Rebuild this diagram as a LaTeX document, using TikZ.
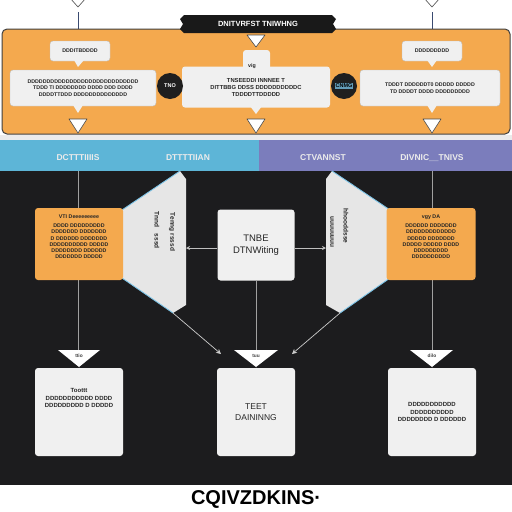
\documentclass[tikz,border=0pt]{standalone}
\usepackage{fontspec}
\setmainfont{Liberation Sans}
\usetikzlibrary{arrows.meta}
\definecolor{orangeC}{HTML}{F4A94E}
\definecolor{darkbg}{HTML}{1C1C1E}
\definecolor{bandblue}{HTML}{5DB5D7}
\definecolor{bandpurple}{HTML}{7B7DBC}
\definecolor{boxwhite}{HTML}{F0F0F0}
\definecolor{trapgrey}{HTML}{E6E6E6}
\definecolor{linegrey}{HTML}{A0A0A0}
\definecolor{edgeblue}{HTML}{7CC3E6}
\definecolor{navyline}{HTML}{3A4A70}
\tikzset{
  wbox/.style={fill=boxwhite, rounded corners=3pt, draw=black!25, line width=0.4pt},
  obox/.style={fill=orangeC, rounded corners=3pt},
  tinytxt/.style={font=\fontsize{5.3}{6.3}\selectfont\bfseries, text=black!85, align=center},
  midtxt/.style={font=\fontsize{6.5}{7.5}\selectfont\bfseries, text=black!85, align=center},
  bandtxt/.style={font=\fontsize{8.5}{9}\selectfont\bfseries, text=white!92!black},
  tri/.style={fill=white, draw=black!70, line width=0.6pt, line join=round},
  gline/.style={draw=linegrey, line width=0.7pt},
  trilabel/.style={font=\fontsize{4.8}{5}\selectfont\bfseries, text=black!75},
}
\begin{document}
\begin{tikzpicture}[x=1pt,y=-1pt]
\useasboundingbox (0,0) rectangle (512,512);
\fill[white] (0,0) rectangle (512,512);
% top connectors
\draw[navyline, line width=0.8pt] (78,12) -- (78,30);
\draw[navyline, line width=0.8pt] (432,12) -- (432,30);
\draw[tri] (70,-2) -- (86,-2) -- (78,7) -- cycle;
\draw[tri] (424,-2) -- (440,-2) -- (432,7) -- cycle;
% orange band
\draw[fill=orangeC, draw=black!75, line width=1pt, rounded corners=5pt] (2,29) rectangle (510,134);
% title tag
\fill[black!90] (184,15) -- (332,15) -- (336,19) -- (333,24) -- (336,29) -- (332,33) -- (184,33) -- (180,29) -- (183,24) -- (180,19) -- cycle;
\node[font=\fontsize{7.5}{8}\selectfont\bfseries, text=white] (title) at (258,24) {DNITVRFST TNIWHNG};
\draw[tri] (247,35) -- (265,35) -- (256,47) -- cycle;
% left label + box
\node[wbox, minimum width=60pt, minimum height=20pt, tinytxt] (ll) at (80,51) {DDDITBDDDD};
\fill[boxwhite] (74,60) -- (84,60) -- (78,67) -- cycle;
\node[wbox, minimum width=146pt, minimum height=36pt, tinytxt] (lb) at (83,88) {DDDDDDDDDDDDDDDDDDDDDDDDDDDDD\\ TDDD TI DDDDDDDD DDDD DDD DDDD\\ DDDDTTDDD DDDDDDDDDDDDDD};
\fill[boxwhite] (73,105) -- (83,105) -- (78,113) -- cycle;
% centre box with tab
\fill[boxwhite, rounded corners=3pt] (243,50) rectangle (270,70);
\node[wbox, draw=none, minimum width=148pt, minimum height=41pt, tinytxt, font=\fontsize{5.8}{7}\selectfont\bfseries] (cb) at (256,87) {TNSEEDDI INNNEE T\\ DITTBBG DDSS DDDDDDDDDDC\\ TDDDDTTDDDDD};
\node[tinytxt] (vig) at (252,66) {vig};
\fill[boxwhite] (250,106) -- (262,106) -- (256,114) -- cycle;
% right label + box
\node[wbox, minimum width=60pt, minimum height=20pt, tinytxt] (rl) at (432,51) {DDDDDDDDD};
\fill[boxwhite] (427,60) -- (437,60) -- (432,67) -- cycle;
\node[wbox, minimum width=140pt, minimum height=36pt, tinytxt] (rb) at (430,88) {TDDDT DDDDDDT0 DDDDD DDDDD\\ TD DDDDT DDDD DDDDDDDDD};
\fill[boxwhite] (427,105) -- (437,105) -- (432,113) -- cycle;
% circles
\node[circle, fill=black!88, minimum size=26pt, inner sep=0pt, font=\fontsize{5.5}{6}\selectfont\bfseries, text=white] (c1) at (170,86) {TNO};
\node[circle, fill=black!88, minimum size=26pt, inner sep=0pt] (c2) at (344,86) {};
\node[fill=edgeblue!80!black, inner sep=1pt, font=\fontsize{5.5}{6}\selectfont\bfseries, text=black] (c2t) at (344,86) {CNMG};
% bottom triangles in orange band
\draw[tri] (69,119) -- (87,119) -- (78,133) -- cycle;
\draw[tri] (247,119) -- (265,119) -- (256,133) -- cycle;
\draw[tri] (423,119) -- (441,119) -- (432,133) -- cycle;
% band
\fill[black!8] (0,135) rectangle (512,140);
\fill[bandblue] (0,140) rectangle (259,171);
\fill[bandpurple] (259,140) rectangle (512,171);
\node[bandtxt] (h1) at (78,158) {DCTTTIIIIS};
\node[bandtxt] (h2) at (188,158) {DTTTTIIAN};
\node[bandtxt] (h3) at (323,158) {CTVANNST};
\node[bandtxt] (h4) at (432,158) {DIVNIC\_\_TNIVS};
% dark panel
\fill[darkbg] (0,171) rectangle (512,485);
% vertical lines
\draw[gline] (78,171) -- (78,350);
\draw[gline] (432,171) -- (432,350);
% trapezoids
\fill[trapgrey] (180,171) -- (186,179) -- (186,305) -- (173,313) -- (122,278) -- (122,210) -- cycle;
\draw[edgeblue, line width=0.9pt] (180,171) -- (122,210);
\draw[edgeblue, line width=0.9pt] (122,278) -- (173,313);
\fill[trapgrey] (332,171) -- (326,179) -- (326,305) -- (340,313) -- (390,278) -- (390,210) -- cycle;
\draw[edgeblue, line width=0.9pt] (332,171) -- (390,210);
\draw[edgeblue, line width=0.9pt] (390,278) -- (340,313);
\coordinate (t1b) at (173,313);
\coordinate (t2b) at (340,313);
\coordinate (t1r) at (186,248);
\coordinate (t2l) at (326,248);
\node[rotate=-90, midtxt] (t1a) at (157,230) {Tnnd\quad sssd};
\node[rotate=-90, midtxt] (t1c) at (172,232) {Tenng\ rsssd};
\node[rotate=-90, midtxt] (t2a) at (332,232) {uuuuuuuu};
\node[rotate=-90, midtxt] (t2c) at (346,226) {hhooddsse};
% orange boxes
\node[obox, minimum width=88pt, minimum height=72pt] (lo) at (79,244) {};
\node[tinytxt, anchor=north] at (79,211) {VTI Deeeeeeeee\\[3pt] DDDD DDDDDDDDD\\ DDDDDDD DDDDDDD\\ D DDDDDD DDDDDDD\\ DDDDDDDDDD DDDDD\\ DDDDDDDD DDDDDD\\ DDDDDDD DDDDD};
\node[obox, minimum width=89pt, minimum height=72pt] (ro) at (431,244) {};
\node[tinytxt, anchor=north] at (431,211) {vgy DA\\[3pt] DDDDDD DDDDDDD\\ DDDDDDDDDDDDD\\ DDDDD DDDDDDD\\ DDDDD DDDDD DDDD\\ DDDDDDDDD\\ DDDDDDDDDD};
% centre box
\node[fill=boxwhite, rounded corners=3pt, minimum width=77pt, minimum height=71pt, font=\fontsize{9.5}{12}\selectfont, align=center, text=black!85] (cm) at (256,245) {TNBE\\DTNWiting};
% short connectors
\draw[gline, draw=white!75!black, -{Stealth[length=4pt,width=4pt]}] (cm.west|-t1r) -- (t1r);
\draw[gline, draw=white!75!black, -{Stealth[length=4pt,width=4pt]}] (cm.east|-t2l) -- (t2l);
% converging lines
\draw[gline, draw=white!80!black, -{Stealth[length=5pt,width=5pt]}] (t1b) -- (221,354);
\draw[gline, draw=white!80!black, -{Stealth[length=5pt,width=5pt]}] (t2b) -- (292,354);
\draw[gline] (cm.south) -- (256,350);
% lower triangles
\fill[white] (58,350) -- (100,350) -- (79,367) -- cycle;
\fill[white] (234,350) -- (278,350) -- (256,367) -- cycle;
\fill[white] (410,350) -- (453,350) -- (432,367) -- cycle;
\node[trilabel] (q1) at (79,356) {ttio};
\node[trilabel] (q2) at (256,356) {tuu};
\node[trilabel] (q3) at (432,356) {dilo};
% bottom boxes
\node[fill=boxwhite, rounded corners=3pt, minimum width=88pt, minimum height=88pt, tinytxt, font=\fontsize{6}{7.5}\selectfont\bfseries] (bl) at (79,412) {Toottt\\ DDDDDDDDDDD DDDD\\ DDDDDDDDD D DDDDD\\[20pt]};
\node[fill=boxwhite, rounded corners=3pt, minimum width=78pt, minimum height=88pt, font=\fontsize{8.5}{11}\selectfont, align=center, text=black!85] (bc) at (256,412) {TEET\\DAININNG};
\node[fill=boxwhite, rounded corners=3pt, minimum width=88pt, minimum height=88pt, tinytxt, font=\fontsize{6}{7.5}\selectfont\bfseries] (br) at (432,412) {DDDDDDDDDDD\\ DDDDDDDDDD\\ DDDDDDDD D DDDDDD};
\draw[black!80, line width=0.8pt] (79,367) -- (bl.north);
\draw[black!80, line width=0.8pt] (256,367) -- (bc.north);
\draw[black!80, line width=0.8pt] (432,367) -- (br.north);
% footer
\node[font=\fontsize{20}{22}\selectfont\bfseries, text=black] (foot) at (256,499) {CQIVZDKINS\textperiodcentered};
\end{tikzpicture}
\end{document}
